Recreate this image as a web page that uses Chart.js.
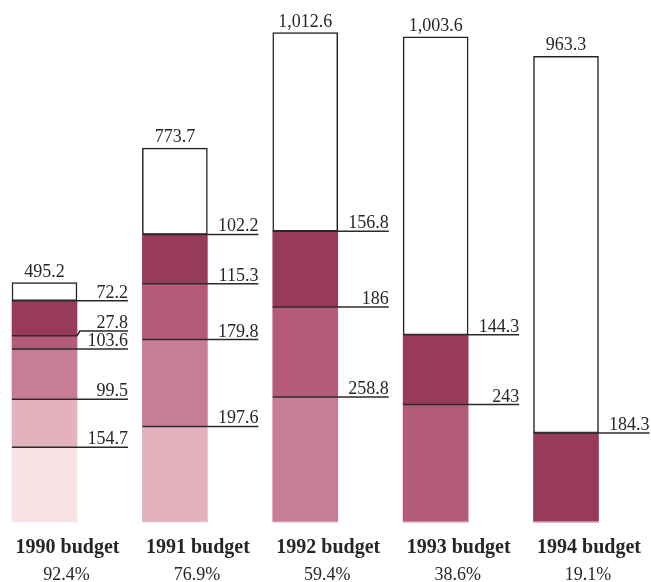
<!DOCTYPE html>
<html>
<head>
<meta charset="utf-8">
<script src="https://cdn.jsdelivr.net/npm/chart.js@4.4.1/dist/chart.umd.min.js"></script>
<style>
  body { margin: 0; background: #fff; }
  canvas { display: block; }
</style>
</head>
<body>
<canvas id="budgetChart" width="651" height="582"></canvas>
<script>
// data
const categories = ['1990 budget', '1991 budget', '1992 budget', '1993 budget', '1994 budget'];
const shares = ['92.4%', '76.9%', '59.4%', '38.6%', '19.1%'];
const totals = [495.2, 773.7, 1012.6, 1003.6, 963.3];
// layers counted from the top of each coloured stack down
const layer1 = [72.2, 102.2, 156.8, 144.3, 184.3];
const layer2 = [27.8, 115.3, 186, 243, 0];
const layer3 = [103.6, 179.8, 258.8, 0, 0];
const layer4 = [99.5, 197.6, 0, 0, 0];
const layer5 = [154.7, 0, 0, 0, 0];

const layerColors = ['#983a5c', '#b45a7a', '#c87d96', '#e4b2be', '#f8e4e6'];
const serif = "'Liberation Serif', 'DejaVu Serif', serif";
const ink = '#262626';

// white part = total minus coloured parts
const remainder = totals.map((t, i) =>
    t - layer1[i] - layer2[i] - layer3[i] - layer4[i] - layer5[i]);

// stack bottom first
const stackLayers = [layer5, layer4, layer3, layer2, layer1];
const stackColors = [layerColors[4], layerColors[3], layerColors[2], layerColors[1], layerColors[0]];

const datasets = stackLayers.map((layer, k) => ({
    label: 'layer' + (5 - k),
    data: layer,
    backgroundColor: stackColors[k],
    borderWidth: 0,
    barThickness: 65,
    clip: false
}));
datasets.push({
    label: 'total',
    data: remainder,
    backgroundColor: '#ffffff',
    borderColor: '#222',
    borderWidth: 1.5,
    borderSkipped: false,
    barThickness: 65,
    clip: false
});

// leader lines + value labels
const labelPlugin = {
    id: 'labelPlugin',
    afterDatasetsDraw(chart) {
        const ctx = chart.ctx;
        ctx.save();
        ctx.strokeStyle = '#2a2a2a';
        ctx.lineWidth = 1.5;
        ctx.fillStyle = ink;
        ctx.font = '18px ' + serif;
        ctx.textAlign = 'right';
        ctx.textBaseline = 'alphabetic';

        categories.forEach((cat, i) => {
            let prevY = null;
            stackLayers.forEach((layer, k) => {
                const v = layer[i];
                if (!v) return;
                const bar = chart.getDatasetMeta(k).data[i];
                const left = bar.x - bar.width / 2;
                const right = bar.x + bar.width / 2;
                const top = bar.y;
                let labelY = top;
                if (prevY !== null && prevY - labelY < 18) labelY = prevY - 18;
                const end = right + 51;

                ctx.beginPath();
                ctx.moveTo(left, top);
                ctx.lineTo(right, top);
                if (labelY !== top) ctx.lineTo(right + 3, labelY);
                ctx.lineTo(end, labelY);
                ctx.stroke();
                ctx.fillText(String(v), end, labelY - 3);
                prevY = labelY;
            });

            // total above the bar
            const whiteBar = chart.getDatasetMeta(stackLayers.length).data[i];
            ctx.textAlign = 'center';
            ctx.fillText(totals[i].toLocaleString('en-US'), whiteBar.x, whiteBar.y - 6);
            ctx.textAlign = 'right';
        });
        ctx.restore();
    }
};

function fixHeight(h) {
    return function(scale) {
        scale.height = h;
        scale.paddingLeft = 0;
        scale.paddingRight = 0;
    };
}

function createChart() {
    const ctx = document.getElementById('budgetChart').getContext('2d');
    new Chart(ctx, {
        type: 'bar',
        data: {
            labels: categories,
            datasets: datasets
        },
        options: {
            responsive: false,
            animation: false,
            layout: {
                padding: { left: 44.5, right: 85, top: 0, bottom: 0 }
            },
            plugins: {
                legend: { display: false },
                tooltip: { enabled: false }
            },
            scales: {
                x: {
                    stacked: true,
                    offset: false,
                    weight: 0,
                    grid: { display: false, drawTicks: false },
                    border: { display: false },
                    afterFit: fixHeight(36),
                    ticks: {
                        padding: 14,
                        labelOffset: 23,
                        color: ink,
                        maxRotation: 0,
                        autoSkip: false,
                        font: { family: serif, size: 20, weight: 'bold' }
                    }
                },
                x2: {
                    type: 'category',
                    position: 'bottom',
                    labels: shares,
                    offset: false,
                    weight: 1,
                    grid: { display: false, drawTicks: false },
                    border: { display: false },
                    afterFit: fixHeight(24),
                    ticks: {
                        padding: 6,
                        labelOffset: 22,
                        color: ink,
                        maxRotation: 0,
                        autoSkip: false,
                        font: { family: serif, size: 18 }
                    }
                },
                y: {
                    stacked: true,
                    display: false,
                    min: 0,
                    max: 1080
                }
            }
        },
        plugins: [labelPlugin]
    });
}

document.addEventListener('DOMContentLoaded', createChart);
</script>
</body>
</html>
